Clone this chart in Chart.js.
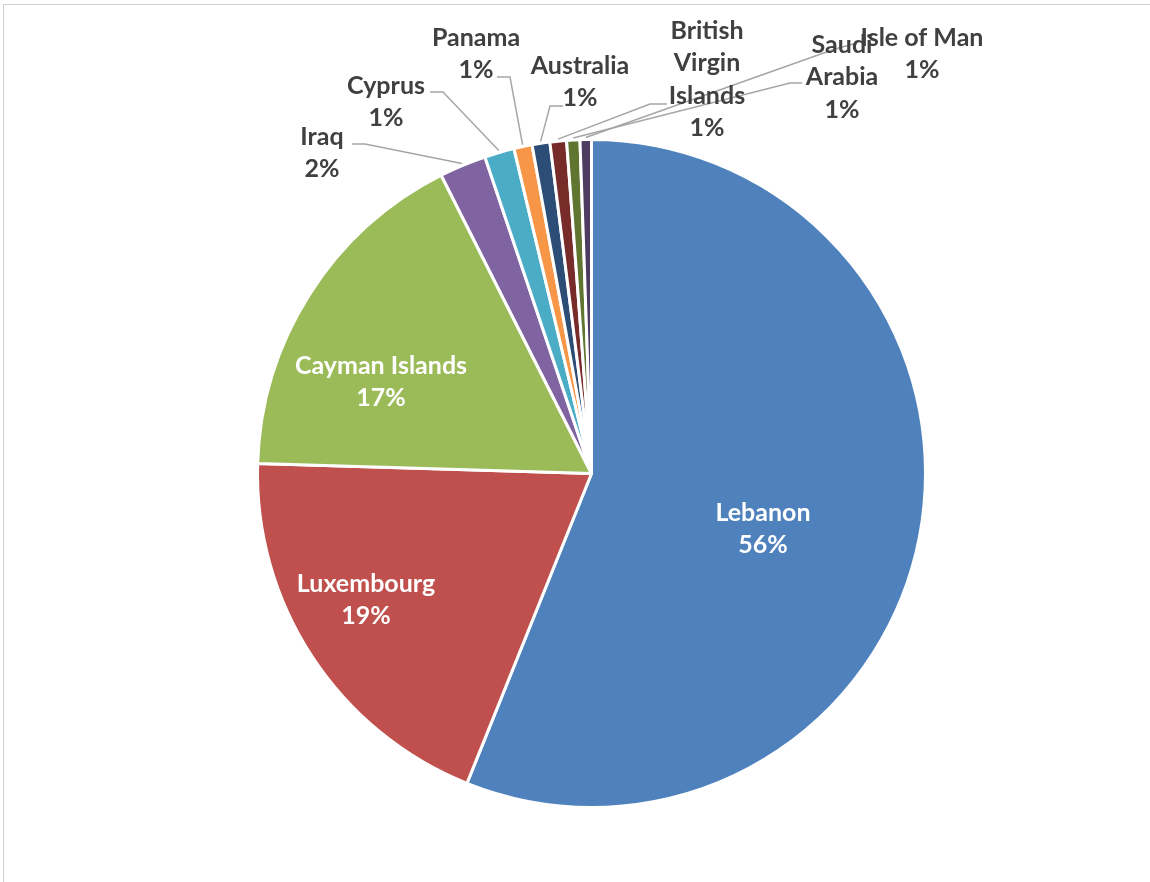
<!DOCTYPE html>
<html>
<head>
<meta charset="utf-8">
<script src="https://cdn.jsdelivr.net/npm/chart.js@4.4.1/dist/chart.umd.min.js"></script>
<style>
  html, body { margin: 0; padding: 0; background: #fff; }
  #wrap { position: relative; width: 1150px; height: 882px; overflow: hidden; }
  #frame { position: absolute; left: 3px; top: 4px; right: -5px; bottom: -5px;
           border-top: 1px solid #cfcfcf; border-left: 1px solid #cfcfcf; }
  #pieChart { position: absolute; left: 0; top: 0; }
</style>
</head>
<body>
<div id="wrap">
  <div id="frame"></div>
  <canvas id="pieChart" width="1150" height="882"></canvas>
</div>
<script>
// data (share of total, in %)
var countries = ['Lebanon', 'Luxembourg', 'Cayman Islands', 'Iraq', 'Cyprus', 'Panama',
                 'Australia', 'British Virgin Islands', 'Saudi Arabia', 'Isle of Man'];
var shares = [56.1, 19.4, 17.1, 2.26, 1.44, 0.88, 0.86, 0.8, 0.64, 0.55];
var sliceColors = ['#4F81BD', '#C0504D', '#9BBB59', '#8064A2', '#4BACC6', '#F79646',
                   '#2C4D75', '#772C2A', '#5F7530', '#4D3B62'];

// where Excel put each label (text centre of first line), and leader line bits
var labelLines = [['Lebanon'], ['Luxembourg'], ['Cayman Islands'], ['Iraq'], ['Cyprus'], ['Panama'],
                  ['Australia'], ['British', 'Virgin', 'Islands'], ['Saudi', 'Arabia'], ['Isle of Man']];
var labelPos = [[763, 513], [366, 584], [381, 366], [322, 137], [386, 86], [476, 38],
                [580, 66], [707, 31], [842, 45], [922, 38]];
var leaders = [null, null, null,
               [[352, 144], [365, 144]],
               [[430, 92], [443, 92]],
               [[497, 77], [510, 77]],
               [[563, 106], [550, 106]],
               [[667, 104], [650, 104]],
               [[802, 83], [790, 83]],
               [[857, 43], [835, 49]]];

var labelPlugin = {
    id: 'pieLabels',
    afterDatasetsDraw: function(chart) {
        var ctx = chart.ctx;
        var meta = chart.getDatasetMeta(0);
        var total = shares.reduce(function(a, b) { return a + b; }, 0);
        ctx.save();
        // leader lines first
        ctx.strokeStyle = '#a6a6a6';
        ctx.lineWidth = 1.5;
        meta.data.forEach(function(arc, i) {
            if (!leaders[i]) return;
            var mid = (arc.startAngle + arc.endAngle) / 2;
            var r = arc.outerRadius + 2;
            var ex = arc.x + Math.cos(mid) * r;
            var ey = arc.y + Math.sin(mid) * r;
            ctx.beginPath();
            ctx.moveTo(leaders[i][0][0], leaders[i][0][1]);
            ctx.lineTo(leaders[i][1][0], leaders[i][1][1]);
            ctx.lineTo(ex, ey);
            ctx.stroke();
        });
        ctx.font = 'bold 25px Lato';
        ctx.textAlign = 'center';
        ctx.textBaseline = 'middle';
        meta.data.forEach(function(arc, i) {
            var pct = Math.round(shares[i] / total * 100) + '%';
            var lines = labelLines[i].concat([pct]);
            ctx.fillStyle = i < 3 ? '#ffffff' : '#404040';
            lines.forEach(function(t, k) {
                ctx.fillText(t, labelPos[i][0], labelPos[i][1] + k * 32.3);
            });
        });
        ctx.restore();
    }
};

var ctx = document.getElementById('pieChart');
new Chart(ctx, {
    type: 'pie',
    data: {
        labels: countries,
        datasets: [{
            data: shares,
            backgroundColor: sliceColors,
            borderColor: '#ffffff',
            borderWidth: 3
        }]
    },
    options: {
        responsive: false,
        animation: false,
        radius: 334,
        layout: { padding: { left: 33, right: 0, top: 65, bottom: 0 } },
        plugins: {
            legend: { display: false },
            tooltip: { enabled: false }
        }
    },
    plugins: [labelPlugin]
});
</script>
</body>
</html>
